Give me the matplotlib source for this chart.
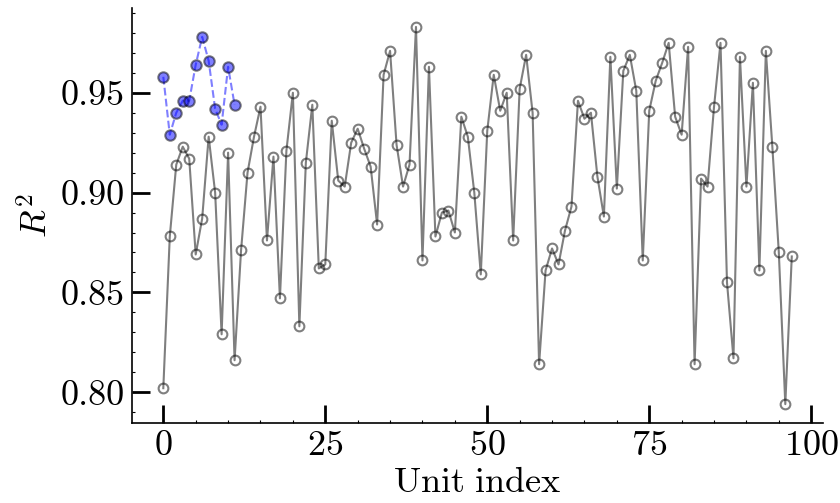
import numpy as np
import matplotlib
matplotlib.use("Agg")
import matplotlib.pyplot as plt
from matplotlib.ticker import MultipleLocator

plt.rcParams['font.family'] = 'cmr10'
plt.rcParams['mathtext.fontset'] = 'cm'
plt.rcParams['axes.formatter.use_mathtext'] = True

# R^2 per unit (all units)
r2_all = [
    0.802, 0.878, 0.914, 0.923, 0.917, 0.869, 0.887, 0.928, 0.900, 0.829,
    0.920, 0.816, 0.871, 0.910, 0.928, 0.943, 0.876, 0.918, 0.847, 0.921,
    0.950, 0.833, 0.915, 0.944, 0.862, 0.864, 0.936, 0.906, 0.903, 0.925,
    0.932, 0.922, 0.913, 0.884, 0.959, 0.971, 0.924, 0.903, 0.914, 0.983,
    0.866, 0.963, 0.878, 0.890, 0.891, 0.880, 0.938, 0.928, 0.900, 0.859,
    0.931, 0.959, 0.941, 0.950, 0.876, 0.952, 0.969, 0.940, 0.814, 0.861,
    0.872, 0.864, 0.881, 0.893, 0.946, 0.937, 0.940, 0.908, 0.888, 0.968,
    0.902, 0.961, 0.969, 0.951, 0.866, 0.941, 0.956, 0.965, 0.975, 0.938,
    0.929, 0.973, 0.814, 0.907, 0.903, 0.943, 0.975, 0.855, 0.817, 0.968,
    0.903, 0.955, 0.861, 0.971, 0.923, 0.870, 0.794, 0.868,
]

# R^2 of the first units after refit
r2_top = [
    0.958, 0.929, 0.940, 0.946, 0.946, 0.964, 0.978, 0.966, 0.942, 0.934,
    0.963, 0.944,
]

fig = plt.figure(figsize=(8.4, 5.03), dpi=100)
ax = fig.add_axes([0.157, 0.159, 0.823, 0.825])

ax.plot(np.arange(len(r2_all)), r2_all, 'o-', color='k', alpha=0.5,
        mfc='none', ms=7, mew=1.5, lw=1.5)
ax.plot(np.arange(len(r2_top)), r2_top, '--', color='blue', alpha=0.5, lw=1.5)
ax.plot(np.arange(len(r2_top)), r2_top, 'o', color='blue', mec='k',
        alpha=0.5, ms=7.5, mew=1.5)

ax.spines['top'].set_visible(False)
ax.spines['right'].set_visible(False)
for s in ['left', 'bottom']:
    ax.spines[s].set_linewidth(1.2)

ax.xaxis.set_major_locator(MultipleLocator(25))
ax.xaxis.set_minor_locator(MultipleLocator(5))
ax.yaxis.set_major_locator(MultipleLocator(0.05))
ax.yaxis.set_minor_locator(MultipleLocator(0.01))
ax.yaxis.set_major_formatter(plt.FuncFormatter(lambda v, p: f"{v:.2f}"))
ax.tick_params(which='major', direction='in', length=13, width=2,
               labelsize=26, pad=5)
ax.tick_params(which='minor', direction='in', length=2.5, width=0.8)

ax.set_xlabel(r'$\mathrm{Unit\ index}$', fontsize=26)
ax.set_ylabel(r'$R^2$', fontsize=26)

fig.savefig('out.png', dpi=100)
